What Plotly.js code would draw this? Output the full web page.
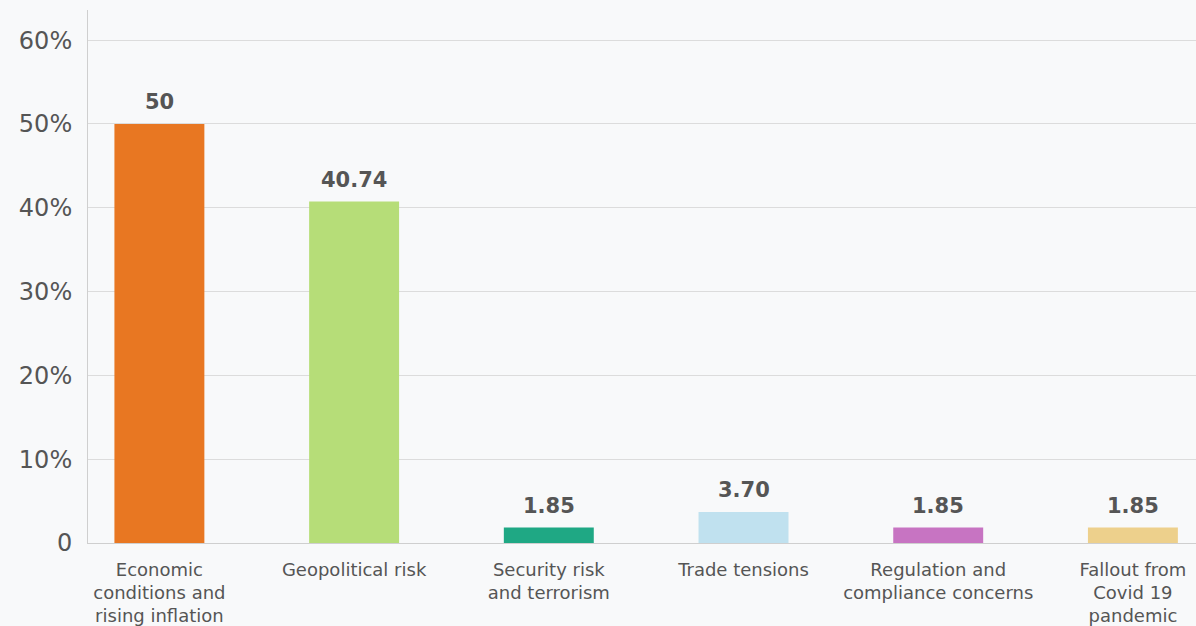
<!DOCTYPE html>
<html>
<head>
<meta charset="utf-8">
<script src="https://cdn.plot.ly/plotly-3.0.1.min.js"></script>
<style>
html,body{margin:0;padding:0;background:#f8f9fa;}
#chart{width:1196px;height:626px;}
</style>
</head>
<body>
<div id="chart"></div>
<script>
const categories = [
  "Economic<br>conditions and<br>rising inflation",
  "Geopolitical risk",
  "Security risk<br>and terrorism",
  "Trade tensions",
  "Regulation and<br>compliance concerns",
  "Fallout from<br>Covid 19<br>pandemic"
];
const values = [50, 40.74, 1.85, 3.70, 1.85, 1.85];
const valueLabels = ["50", "40.74", "1.85", "3.70", "1.85", "1.85"];
const colors = ["#E87722", "#B6DD78", "#1FA884", "#C0E1EF", "#C774C2", "#EDD08C"];
const yTickVals = [0, 10, 20, 30, 40, 50, 60];
const yTickText = ["0", "10%", "20%", "30%", "40%", "50%", "60%"];

const xIdx = categories.map((c, i) => i);
const FONT = "'DejaVu Sans', Verdana, sans-serif";

const trace = {
  type: "bar",
  x: xIdx,
  y: values,
  marker: {color: colors},
  hoverinfo: "skip"
};

const annotations = xIdx.map((i) => ({
  x: i, y: values[i], xref: "x", yref: "y",
  text: valueLabels[i], showarrow: false,
  yanchor: "bottom", yshift: 8,
  font: {family: FONT, size: 21, color: "#555", weight: 700}
}));

const layout = {
  width: 1196, height: 626,
  margin: {l: 88, r: 0, t: 10, b: 83},
  paper_bgcolor: "#f8f9fa",
  plot_bgcolor: "#f8f9fa",
  bargap: 0.538,
  showlegend: false,
  font: {family: FONT, color: "#555"},
  xaxis: {
    range: [-0.3667, 5.324],
    tickvals: xIdx,
    ticktext: categories,
    tickfont: {size: 18, color: "#555"},
    showgrid: false,
    zeroline: false,
    showline: true,
    linecolor: "#cfcfcf",
    linewidth: 1,
    ticks: "",
    ticklabelstandoff: 10,
    fixedrange: true
  },
  yaxis: {
    range: [0, 63.6],
    tickvals: yTickVals,
    ticktext: yTickText,
    tickfont: {size: 24, color: "#555"},
    showgrid: true,
    gridcolor: "#dcdcdc",
    gridwidth: 1,
    zeroline: false,
    showline: true,
    linecolor: "#cfcfcf",
    linewidth: 1,
    ticks: "",
    ticklabelstandoff: 10,
    fixedrange: true
  },
  annotations: annotations
};

Plotly.newPlot("chart", [trace], layout, {displayModeBar: false, staticPlot: true});
</script>
</body>
</html>
